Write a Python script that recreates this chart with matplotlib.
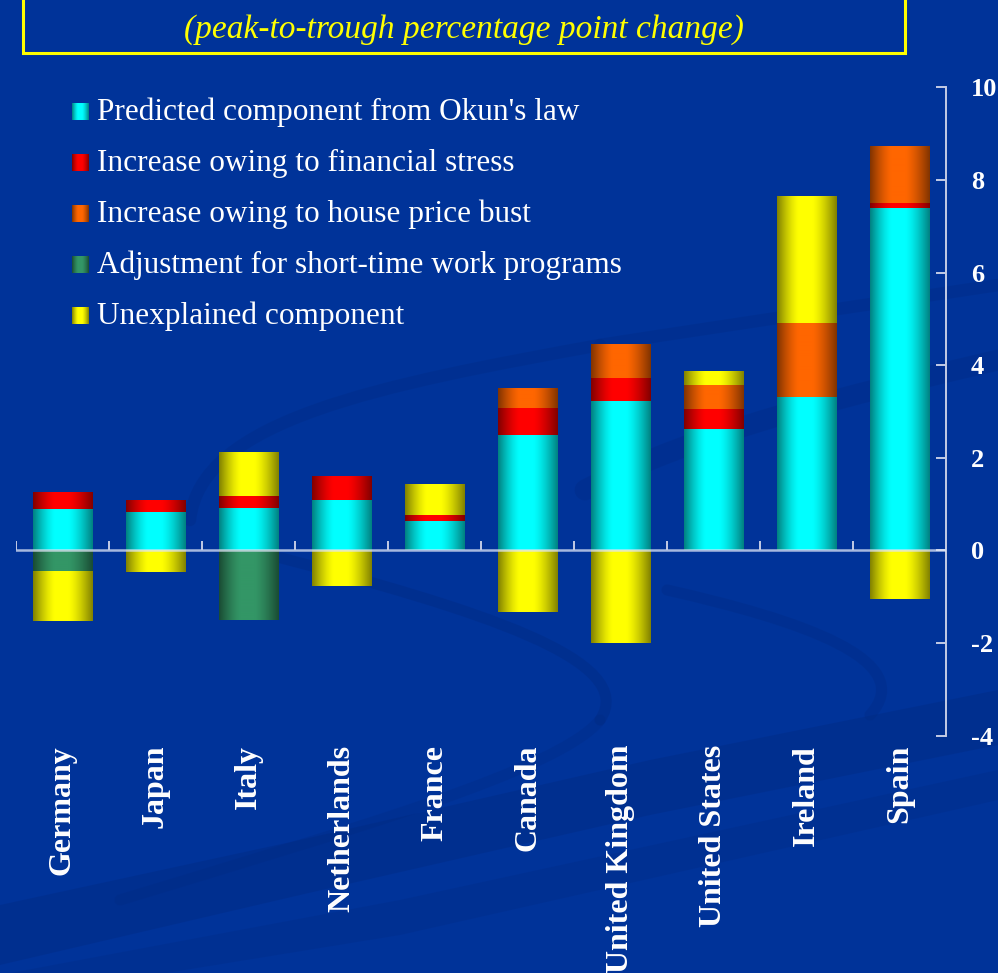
import numpy as np
import matplotlib
matplotlib.use("Agg")
import matplotlib.pyplot as plt
from matplotlib.path import Path
from matplotlib.patches import PathPatch, Rectangle
from matplotlib.transforms import Affine2D, blended_transform_factory

# ---- data -----------------------------------------------------------------
countries = ["Germany", "Japan", "Italy", "Netherlands", "France", "Canada",
             "United Kingdom", "United States", "Ireland", "Spain"]
series_names = ["Predicted component from Okun's law",
                "Increase owing to financial stress",
                "Increase owing to house price bust",
                "Adjustment for short-time work programs",
                "Unexplained component"]
okun = [0.89, 0.83, 0.92, 1.09, 0.64, 2.49, 3.22, 2.62, 3.31, 7.39]
financial = [0.35, 0.24, 0.26, 0.50, 0.13, 0.58, 0.50, 0.43, 0.00, 0.12]
house = [0.00, 0.00, 0.00, 0.00, 0.00, 0.43, 0.73, 0.52, 1.60, 1.21]
short_time = [-0.46, 0.00, -1.50, 0.00, 0.00, 0.00, 0.00, 0.00, 0.00, 0.00]
unexplained = [-1.06, -0.46, 0.93, -0.77, 0.65, -1.33, -2.00, 0.30, 2.74, -1.05]
y_ticks = [-4, -2, 0, 2, 4, 6, 8, 10]
title_text = "(peak-to-trough percentage point change)"

series_values = [okun, financial, house, short_time, unexplained]
series_colors = [(0, 255, 255), (255, 0, 0), (255, 102, 0), (51, 150, 102), (255, 255, 0)]

BG = "#003399"
AXIS_COL = "#c4cce6"
SERIF = "Liberation Serif"

W, H = 998, 973
fig = plt.figure(figsize=(W / 100, H / 100), dpi=100, facecolor=BG)
# pixel coordinates with origin at the top-left corner
px = Affine2D().scale(1 / W, -1 / H).translate(0, 1) + fig.transFigure


def shade_profile(n):
    t = (np.arange(n) + 0.5) / n
    # cylinder-like shading: dark edges, highlight slightly left of centre
    s = np.sin(np.pi * np.clip(t * 0.5 / 0.47, 0, 0.5) +
               np.pi * np.clip((t - 0.47) * 0.5 / 0.53, 0, 0.5))
    return 0.5 + 0.5 * np.minimum(1.0, 1.08 * s)


def gradient_strip(rgb, n=120, rows=2):
    base = np.array(rgb, dtype=float) / 255.0
    strip = base[None, :] * shade_profile(n)[:, None]
    return np.tile(strip[None, :, :], (rows, 1, 1))


# ---- background swirls ------------------------------------------------------
def stroke(points, lw, color="#00297f", alpha=0.35):
    codes = [Path.MOVETO] + [Path.CURVE4] * (len(points) - 1)
    fig.add_artist(PathPatch(Path(points, codes), transform=px, fill=False,
                             edgecolor=color, lw=lw, alpha=alpha, zorder=0,
                             capstyle="round"))


def band(points, color="#00297f", alpha=0.35):
    fig.add_artist(PathPatch(Path(points), transform=px, facecolor=color,
                             edgecolor="none", alpha=alpha, zorder=0))


band([(0, 905), (300, 840), (650, 760), (998, 690), (998, 745),
      (650, 815), (300, 895), (0, 965), (0, 905)], alpha=0.35)
band([(0, 975), (400, 900), (998, 770), (998, 800), (400, 935), (0, 1000)],
     alpha=0.25)
stroke([(190, 520), (200, 420), (380, 385), (600, 345)], lw=9, alpha=0.30)
stroke([(600, 345), (760, 320), (900, 300), (998, 285)], lw=9, alpha=0.30)
stroke([(585, 490), (700, 430), (850, 395), (998, 360)], lw=15, alpha=0.30)
stroke([(270, 555), (480, 610), (640, 660), (600, 720)], lw=8, alpha=0.35)
stroke([(600, 720), (560, 770), (350, 830), (120, 900)], lw=8, alpha=0.25)
stroke([(667, 590), (800, 620), (920, 660), (870, 715)], lw=8, alpha=0.30)

# ---- title box ---------------------------------------------------------------
fig.add_artist(Rectangle((23, -10), 882, 63, transform=px, fill=False,
                         edgecolor="#ffff00", lw=2.2, zorder=2))
fig.text(464 / W, 1 - 38 / H, title_text, ha="center", va="baseline",
         color="#ffff00", fontsize=24, style="italic", family=SERIF)

# ---- chart area --------------------------------------------------------------
ax = fig.add_axes([16 / W, (H - 735.6) / H, 930 / W, 648.2 / H])
ax.patch.set_visible(False)

x = np.arange(len(countries))
bar_w = 0.635
pos_base = np.zeros(len(countries))
neg_base = np.zeros(len(countries))
for vals, col in zip(series_values, series_colors):
    v = np.array(vals, dtype=float)
    bottoms = np.where(v >= 0, pos_base, neg_base)
    bars = ax.bar(x, v, width=bar_w, bottom=bottoms,
                  color=np.array(col) / 255.0, linewidth=0, zorder=2)
    for rect in bars:
        h = rect.get_height()
        if h == 0:
            continue
        x0, y0, w = rect.get_x(), rect.get_y(), rect.get_width()
        ax.imshow(gradient_strip(col), extent=(x0, x0 + w, y0, y0 + h),
                  aspect="auto", interpolation="bilinear", zorder=3)
    pos_base += np.clip(v, 0, None)
    neg_base += np.clip(v, None, 0)

ax.set_xlim(-0.5, len(countries) - 0.5)
ax.set_ylim(-4, 10)

# zero line with category separators
ax.axhline(0, color="#dfe6f7", alpha=0.75, lw=1.8, zorder=4)
ax.vlines(np.arange(len(countries)) - 0.5, 0, 0.2, color=AXIS_COL, lw=1.4,
          zorder=4)

for side in ("left", "top", "bottom"):
    ax.spines[side].set_visible(False)
ax.spines["right"].set_color(AXIS_COL)
ax.spines["right"].set_linewidth(1.4)
ax.set_xticks([])
ax.yaxis.tick_right()
ax.set_yticks(y_ticks)
ax.set_yticklabels([str(t) for t in y_ticks])
ax.tick_params(axis="y", direction="in", length=7.5, width=1.4,
               color=AXIS_COL, pad=18, labelsize=19, labelcolor="white")
for lab in ax.get_yticklabels():
    lab.set_family(SERIF)
    lab.set_fontweight("bold")

# country labels
tr = blended_transform_factory(ax.transData, ax.transAxes)
for xi, name in zip(x, countries):
    ax.text(xi, -0.0145, name, transform=tr, rotation=90, ha="center",
            va="top", color="white", fontsize=23, family=SERIF,
            fontweight="bold", clip_on=False)

# ---- legend ------------------------------------------------------------------
for k, (name, col) in enumerate(zip(series_names, series_colors)):
    baseline = 120 + 51 * k
    fig.figimage(gradient_strip(col, n=17, rows=17), xo=72, yo=H - baseline,
                 origin="upper", zorder=5)
    fig.text(97 / W, 1 - baseline / H, name, ha="left", va="baseline",
             color="white", fontsize=22.5, family=SERIF)

fig.savefig("out.png", dpi=100, facecolor=BG)
